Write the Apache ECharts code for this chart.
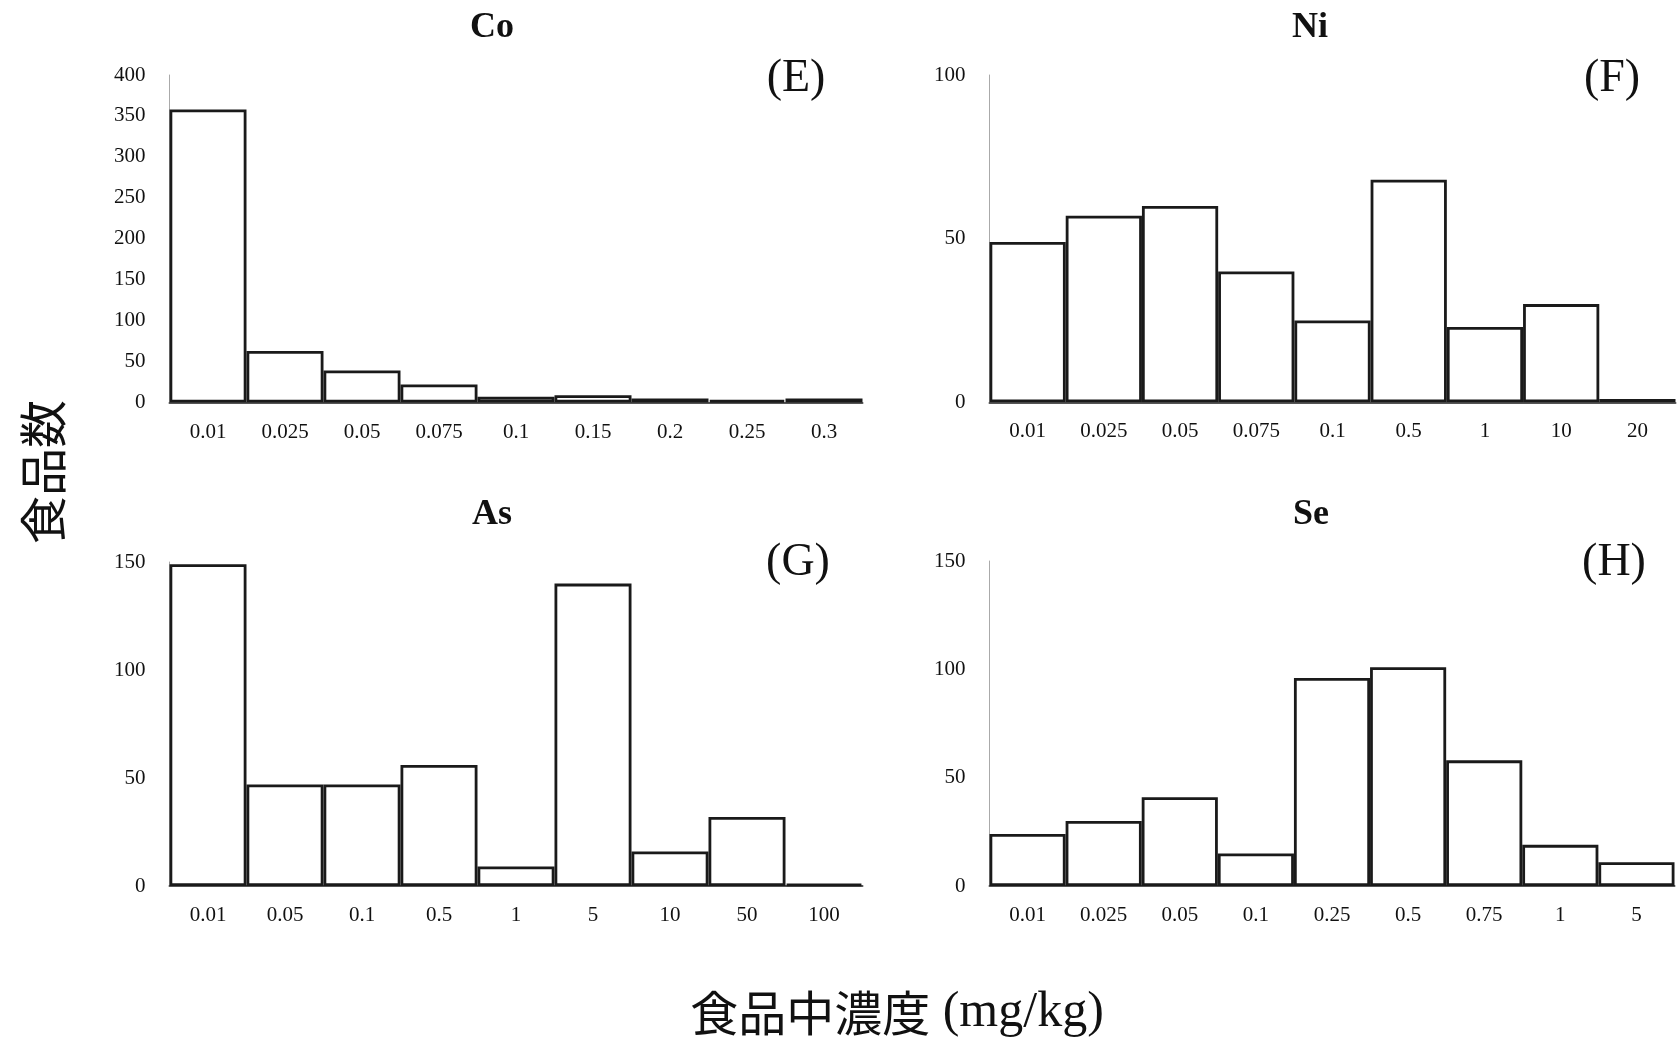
<!DOCTYPE html>
<html>
<head>
<meta charset="utf-8">
<script src="https://cdn.jsdelivr.net/npm/echarts@6/dist/echarts.min.js"></script>
<style>
html,body{margin:0;padding:0;background:#fff;}
#chart{width:1678px;height:1045px;}
</style>
</head>
<body>
<div id="chart"></div>
<script>
// ---- data ----
var coCats = ['0.01','0.025','0.05','0.075','0.1','0.15','0.2','0.25','0.3'];
var coVals = [358, 63, 39, 22, 7, 9, 5, 3, 5];
var niCats = ['0.01','0.025','0.05','0.075','0.1','0.5','1','10','20'];
var niVals = [49, 57, 60, 40, 25, 68, 23, 30, 1];
var asCats = ['0.01','0.05','0.1','0.5','1','5','10','50','100'];
var asVals = [149, 47, 47, 56, 9, 140, 16, 32, 1];
var seCats = ['0.01','0.025','0.05','0.1','0.25','0.5','0.75','1','5'];
var seVals = [24, 30, 41, 15, 96, 101, 58, 19, 11];
var panelTitles = ['Co','Ni','As','Se'];
var panelTags = ['(E)','(F)','(G)','(H)'];
var yMax = [400, 100, 150, 150];
var yTitle = '食品数';
var xTitle = '食品中濃度';
var xUnit = ' (mg/kg)';

var SERIF = '"Liberation Serif","Times New Roman",serif';
var CJK = '"Noto Sans CJK JP","Noto Sans CJK SC",sans-serif';

var grids = [
  {left:169.5, top:75, width:693, height:327.5},
  {left:989.5, top:75, width:686, height:327.3},
  {left:169.5, top:562, width:693, height:324},
  {left:989.5, top:561, width:685, height:325}
];
var cats = [coCats, niCats, asCats, seCats];
var vals = [coVals, niVals, asVals, seVals];

var xAxes = [], yAxes = [], series = [];
for (var i = 0; i < 4; i++) {
  xAxes.push({
    type:'category', gridIndex:i, data:cats[i],
    axisLine:{show:true, lineStyle:{color:'#555', width:2}},
    axisTick:{show:false},
    axisLabel:{fontFamily:SERIF, fontSize:21, color:'#111', margin:19}
  });
  yAxes.push({
    type:'value', gridIndex:i, min:0, max:yMax[i], interval:50,
    axisLine:{show:true, lineStyle:{color:'#aaa', width:1}},
    axisTick:{show:false},
    splitLine:{show:false},
    axisLabel:{fontFamily:SERIF, fontSize:21, color:'#111', margin:24}
  });
  series.push({
    type:'bar', xAxisIndex:i, yAxisIndex:i, data:vals[i],
    barCategoryGap:'0%', barGap:'0%',
    itemStyle:{color:'#fff', borderColor:'#1a1a1a', borderWidth:2.8},
    silent:true, animation:false
  });
}

var titlePos = [[492,28],[1310,28],[492,515],[1311,515]];
var tagPos = [[796,79],[1612,79],[798,563],[1614,563]];
var graphics = [];
for (var k = 0; k < 4; k++) {
  graphics.push({type:'text', x:titlePos[k][0], y:titlePos[k][1],
    style:{text:panelTitles[k], font:'bold 36px ' + SERIF, fill:'#111', align:'center', verticalAlign:'middle'}});
  graphics.push({type:'text', x:tagPos[k][0], y:tagPos[k][1],
    style:{text:panelTags[k], font:'46px ' + SERIF, fill:'#111', align:'center', verticalAlign:'middle'}});
}
graphics.push({type:'text', x:43, y:472, rotation:Math.PI/2,
  style:{text:yTitle, font:'48px ' + CJK, fill:'#111', align:'center', verticalAlign:'middle'}});
graphics.push({type:'text', x:897, y:1013,
  style:{
    text:'{a|' + xTitle + '}{b|' + xUnit + '}',
    align:'center', verticalAlign:'middle', fill:'#111',
    rich:{
      a:{fontFamily:CJK, fontSize:48, fill:'#111'},
      b:{fontFamily:SERIF, fontSize:50, fill:'#111'}
    }
  }});

var chart = echarts.init(document.getElementById('chart'));
chart.setOption({
  backgroundColor:'#fff',
  animation:false,
  grid:grids,
  xAxis:xAxes,
  yAxis:yAxes,
  series:series,
  graphic:graphics
});
</script>
</body>
</html>
